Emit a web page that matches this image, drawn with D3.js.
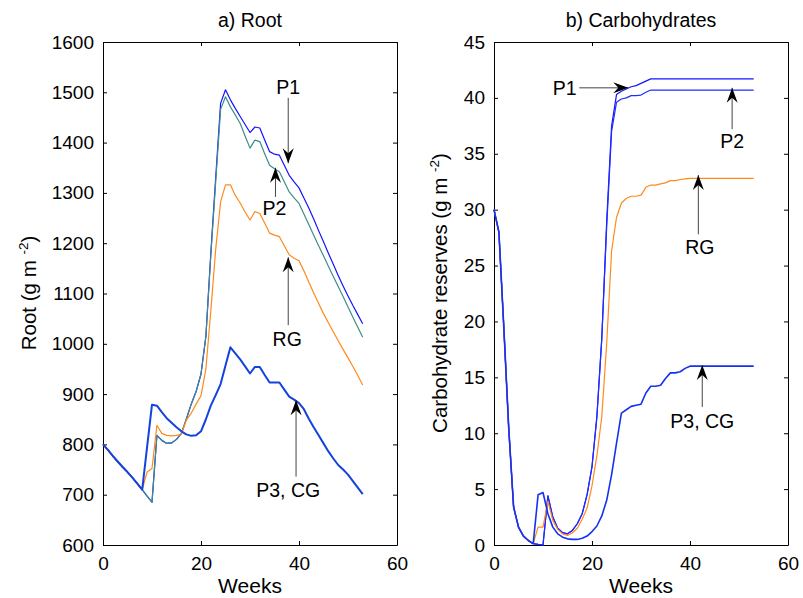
<!DOCTYPE html>
<html lang="en">
<head>
<meta charset="utf-8">
<title>Root and carbohydrates</title>
<script src="https://d3js.org/d3.v7.min.js"></script>
<style>
  body { margin: 0; background: #fff; }
  text { font-family: "Liberation Sans", Arial, sans-serif; fill: #000; }
  .tick text { font-size: 19px; }
</style>
</head>
<body>
<svg width="803" height="598"></svg>
<script>
// weeks 0..53
const weeks = d3.range(0, 54);

// a) Root (g m-2)
const rootP1 = [800, 789, 777, 766, 755, 745, 734, 722, 710, 697, 685, 818, 808, 802, 803, 810, 822, 850, 880, 905,
  940, 1015, 1180, 1330, 1478, 1505, 1485, 1468, 1452, 1436, 1420, 1431, 1429, 1405, 1382, 1377, 1375, 1355, 1335, 1322,
  1310, 1290, 1270, 1248, 1225, 1203, 1180, 1158, 1136, 1115, 1095, 1076, 1058, 1040];
const rootP2 = [800, 789, 777, 766, 755, 745, 734, 722, 710, 697, 685, 818, 808, 802, 803, 810, 822, 850, 880, 905,
  940, 1015, 1175, 1322, 1466, 1491, 1471, 1455, 1438, 1413, 1389, 1405, 1402, 1378, 1355, 1348, 1342, 1322, 1302, 1290,
  1279, 1258, 1237, 1216, 1195, 1175, 1154, 1134, 1114, 1094, 1073, 1053, 1033, 1013];
const rootRG = [800, 789, 777, 766, 755, 745, 734, 722, 710, 745, 752, 838, 822, 818, 817, 818, 820, 848, 862, 880,
  897, 950, 1065, 1188, 1282, 1316, 1316, 1295, 1280, 1262, 1246, 1263, 1259, 1240, 1220, 1216, 1213, 1195, 1177, 1170,
  1165, 1145, 1123, 1101, 1080, 1060, 1042, 1024, 1006, 989, 972, 955, 937, 918];
const rootP3 = [800, 789, 777, 766, 755, 745, 734, 722, 710, 795, 879, 877, 864, 852, 843, 834, 826, 820, 817, 818,
  826, 850, 877, 898, 920, 957, 993, 981, 969, 955, 941, 954, 954, 938, 923, 923, 923, 909, 895, 889,
  882, 870, 851, 834, 818, 802, 786, 772, 759, 750, 740, 727, 714, 701];

// b) Carbohydrate reserves (g m-2)
const carbP1 = [30, 28, 19.5, 10.5, 3.4, 1.6, 0.8, 0.4, 0.12, 0.05, 0.0, 4.4, 2.5, 1.5, 1.1, 1.0, 1.3, 1.9, 2.8, 4.5,
  7.0, 11.5, 18.5, 29, 37.5, 40.3, 40.6, 40.8, 41.0, 41.1, 41.3, 41.5, 41.7, 41.7, 41.7, 41.7, 41.7, 41.7, 41.7, 41.7,
  41.7, 41.7, 41.7, 41.7, 41.7, 41.7, 41.7, 41.7, 41.7, 41.7, 41.7, 41.7, 41.7, 41.7];
const carbP2 = [30, 28, 19.5, 10.5, 3.4, 1.6, 0.8, 0.4, 0.12, 0.05, 0.0, 4.4, 2.5, 1.5, 1.1, 1.0, 1.3, 1.9, 2.8, 4.5,
  7.0, 11.5, 18.5, 28.5, 37, 39.6, 39.9, 40.0, 40.2, 40.2, 40.25, 40.5, 40.7, 40.7, 40.7, 40.7, 40.7, 40.7, 40.7, 40.7,
  40.7, 40.7, 40.7, 40.7, 40.7, 40.7, 40.7, 40.7, 40.7, 40.7, 40.7, 40.7, 40.7, 40.7];
const carbRG = [30, 28, 19.5, 10.5, 3.4, 1.6, 0.8, 0.4, 0.12, 1.6, 1.6, 3.9, 2.2, 1.4, 1.0, 0.85, 1.1, 1.5, 2.3, 3.3,
  5.3, 8.0, 11.5, 18, 26.3, 29.3, 30.6, 31.0, 31.2, 31.2, 31.3, 32.0, 32.2, 32.2, 32.3, 32.4, 32.6, 32.6, 32.7, 32.75,
  32.8, 32.8, 32.8, 32.8, 32.8, 32.8, 32.8, 32.8, 32.8, 32.8, 32.8, 32.8, 32.8, 32.8];
const carbP3 = [30, 28, 19.5, 10.5, 3.4, 1.6, 0.8, 0.4, 0.12, 4.5, 4.7, 2.8, 1.6, 1.0, 0.7, 0.55, 0.5, 0.5, 0.6, 0.8,
  1.2, 1.7, 2.6, 4.0, 6.3, 9.1, 11.8, 12.1, 12.4, 12.5, 12.6, 13.6, 14.2, 14.2, 14.3, 14.9, 15.4, 15.4, 15.5, 15.8,
  16.0, 16.0, 16.0, 16.0, 16.0, 16.0, 16.0, 16.0, 16.0, 16.0, 16.0, 16.0, 16.0, 16.0];

const xTicks = [0, 20, 40, 60];
const rootTicks = d3.range(600, 1601, 100);
const carbTicks = d3.range(0, 46, 5);

// annotations: tip and tail in data units, label position in data units
const rootNotes = [
  {label: "P1", tip: [37.8, 1359], tail: [37.8, 1489], text: [37.8, 1510]},
  {label: "P2", tip: [35.2, 1350], tail: [35.2, 1292], text: [35.0, 1270]},
  {label: "RG", tip: [37.8, 1172], tail: [37.8, 1037], text: [37.6, 1010]},
  {label: "P3, CG", tip: [39.4, 888], tail: [39.4, 736], text: [37.8, 709]}
];
const carbNotes = [
  {label: "P1", tip: [27.4, 40.9], tail: [17.4, 40.9], text: [14.4, 40.9]},
  {label: "P2", tip: [48.6, 40.9], tail: [48.6, 37.2], text: [48.6, 36.1]},
  {label: "RG", tip: [41.7, 33.1], tail: [41.7, 27.8], text: [42.0, 26.6]},
  {label: "P3, CG", tip: [42.5, 16.1], tail: [42.5, 12.35], text: [42.5, 11.07]}
];

const svg = d3.select("svg");

// MATLAB-like arrow head
svg.append("defs").append("marker")
  .attr("id", "head")
  .attr("markerUnits", "userSpaceOnUse")
  .attr("viewBox", "-16 -6 17 12")
  .attr("refX", 0).attr("refY", 0)
  .attr("markerWidth", 17).attr("markerHeight", 12)
  .attr("orient", "auto")
  .append("path")
  .attr("d", "M0,0 L-15,-5.5 L-10,0 L-15,5.5 Z")
  .attr("fill", "#000");

function panel(opt) {
  const x = d3.scaleLinear().domain([0, 60]).range([opt.left, opt.right]);
  const y = d3.scaleLinear().domain(opt.yDomain).range([545, 42]);
  const g = svg.append("g");

  // frame + ticks on all four sides, pointing in
  g.append("g").attr("transform", `translate(0,${y.range()[0]})`)
    .call(d3.axisBottom(x).tickValues(xTicks).tickFormat(d3.format("d"))
      .tickSizeInner(-4).tickSizeOuter(0).tickPadding(12));
  g.append("g").attr("transform", `translate(0,${y.range()[1]})`)
    .call(d3.axisTop(x).tickValues(xTicks).tickSizeInner(-4).tickSizeOuter(0).tickFormat(""));
  g.append("g").attr("transform", `translate(${x.range()[0]},0)`)
    .call(d3.axisLeft(y).tickValues(opt.yTicks).tickFormat(d3.format("d"))
      .tickSizeInner(-4).tickSizeOuter(0).tickPadding(9));
  g.append("g").attr("transform", `translate(${x.range()[1]},0)`)
    .call(d3.axisRight(y).tickValues(opt.yTicks).tickSizeInner(-4).tickSizeOuter(0).tickFormat(""));
  g.selectAll(".tick text").attr("font-family", null).attr("font-size", null);
  g.selectAll(".domain, .tick line").attr("stroke", "#000").attr("stroke-width", 1);

  const line = d3.line().x((d, i) => x(weeks[i])).y(d => y(d));
  opt.series.forEach(s => {
    g.append("path").datum(s.values)
      .attr("fill", "none")
      .attr("stroke", s.color)
      .attr("stroke-width", s.width)
      .attr("stroke-linejoin", "round")
      .attr("d", line);
  });

  // annotations
  opt.notes.forEach(n => {
    g.append("line")
      .attr("x1", x(n.tail[0])).attr("y1", y(n.tail[1]))
      .attr("x2", x(n.tip[0])).attr("y2", y(n.tip[1]))
      .attr("stroke", "#444").attr("stroke-width", 1)
      .attr("marker-end", "url(#head)");
    g.append("text")
      .attr("x", x(n.text[0])).attr("y", y(n.text[1]))
      .attr("text-anchor", "middle").attr("dy", "0.35em")
      .style("font-size", "19.5px")
      .text(n.label);
  });

  const cx = (opt.left + opt.right) / 2;
  g.append("text").attr("x", cx).attr("y", 27).attr("text-anchor", "middle")
    .style("font-size", "19.5px").text(opt.title);
  g.append("text").attr("x", cx).attr("y", 593).attr("text-anchor", "middle")
    .style("font-size", "21px").text("Weeks");

  const yl = g.append("text")
    .attr("transform", `translate(${opt.ylabelX},293) rotate(-90)`)
    .attr("text-anchor", "middle")
    .style("font-size", "20.5px");
  yl.append("tspan").text(opt.ylabel + " (g m ");
  yl.append("tspan").attr("dy", "-8").style("font-size", "13.5px").text("-2");
  yl.append("tspan").attr("dy", "8").text(")");
}

panel({
  left: 103, right: 397, yDomain: [600, 1600], yTicks: rootTicks,
  title: "a) Root", ylabel: "Root", ylabelX: 36,
  series: [
    {values: rootP1, color: "#1414ff", width: 1.2},
    {values: rootP2, color: "#3f8c8c", width: 1.2},
    {values: rootRG, color: "#ff8a1c", width: 1.2},
    {values: rootP3, color: "#1442dc", width: 2}
  ],
  notes: rootNotes
});

panel({
  left: 494, right: 788, yDomain: [0, 45], yTicks: carbTicks,
  title: "b) Carbohydrates", ylabel: "Carbohydrate reserves", ylabelX: 447,
  series: [
    {values: carbP1, color: "#1414ff", width: 1.2},
    {values: carbP2, color: "#1f2cff", width: 1.2},
    {values: carbRG, color: "#ff8a1c", width: 1.2},
    {values: carbP3, color: "#1432f0", width: 1.6}
  ],
  notes: carbNotes
});
</script>
</body>
</html>
